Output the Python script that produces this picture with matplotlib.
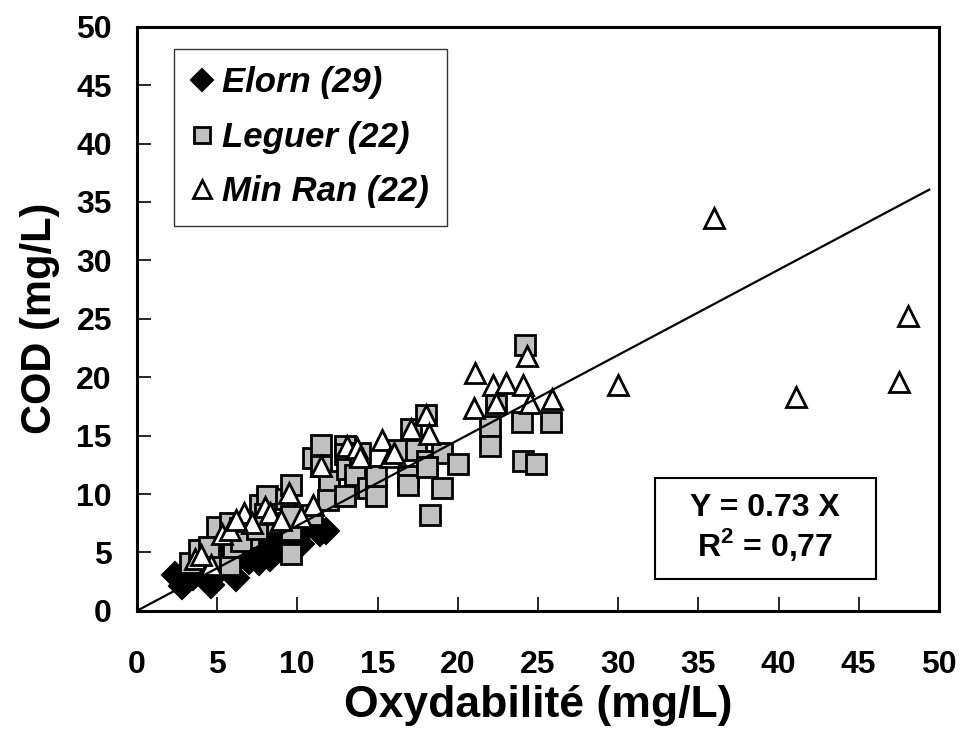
import numpy as np
import matplotlib
matplotlib.use("Agg")
from matplotlib import pyplot as plt
from matplotlib.patches import Rectangle

plt.rcParams["font.family"] = ["Liberation Sans", "DejaVu Sans"]
plt.rcParams["font.weight"] = "bold"
plt.rcParams["mathtext.fontset"] = "custom"
plt.rcParams["mathtext.rm"] = "Liberation Sans:bold"
plt.rcParams["mathtext.bf"] = "Liberation Sans:bold"

# Elorn (diamonds)
elorn_x = [2.4, 2.8, 3.0, 3.5, 4.6, 4.0, 5.0, 5.5, 6.2, 6.0, 6.5, 7.0, 7.6, 7.5, 8.3,
           8.0, 8.8, 9.2, 9.95, 10.2, 10.6, 11.4, 11.8, 5.2, 6.8, 8.5, 9.8, 3.8, 4.4]
elorn_y = [3.1, 2.1, 2.4, 2.9, 2.2, 3.5, 3.2, 4.5, 2.8, 4.0, 5.0, 4.3, 4.2, 5.5, 4.5,
           6.0, 5.2, 6.2, 5.5, 5.7, 7.2, 6.7, 6.8, 5.8, 6.5, 7.0, 7.5, 4.0, 4.6]

# Leguer (grey squares)
leguer_x = [3.3, 3.9, 4.6, 5.0, 5.8, 5.8, 6.4, 6.0, 7.0, 7.7, 8.1, 8.4, 9.3, 9.6, 9.6,
            9.6, 10.9, 9.6, 11.0, 11.5, 11.5, 12.0, 12.0, 11.9, 13.0, 13.0, 13.1, 13.6,
            13.9, 13.0, 14.4, 14.9, 14.9, 16.2, 17.4, 16.9, 16.9, 17.1, 18.0, 18.1, 19.0,
            18.1, 20.0, 19.0, 18.3, 22.0, 22.0, 22.4, 24.0, 25.8, 24.1, 24.9, 24.2, 6.5,
            7.5, 4.5, 8.0]
leguer_y = [4.1, 5.2, 4.2, 7.2, 3.9, 7.5, 7.1, 5.5, 6.2, 9.1, 9.8, 7.5, 9.6, 10.8, 6.9,
            4.9, 8.2, 8.1, 13.1, 14.2, 12.4, 10.2, 11.1, 9.5, 14.1, 13.4, 12.1, 11.6,
            13.5, 9.8, 10.5, 9.8, 11.5, 13.8, 13.8, 11.5, 10.8, 15.6, 16.8, 12.8, 13.5,
            12.3, 12.6, 10.5, 8.2, 15.8, 14.1, 17.9, 16.2, 16.2, 12.8, 12.6, 22.8, 6.0,
            7.0, 5.5, 8.3]

# Min Ran (open triangles)
minran_x = [3.6, 4.6, 5.3, 5.8, 6.7, 8.0, 8.3, 9.5, 11.0, 11.5, 13.1, 13.7, 13.9, 15.3,
            15.8, 16.0, 17.1, 18.0, 18.2, 21.1, 21.0, 22.2, 23.0, 24.1, 22.4, 24.5, 25.9,
            24.3, 30.0, 36.0, 41.1, 47.5, 48.1, 4.0, 7.2, 6.2, 9.0, 10.2]
minran_y = [4.4, 3.9, 6.6, 6.9, 8.4, 8.9, 8.4, 10.1, 9.1, 12.4, 14.1, 13.9, 13.2, 14.6,
            13.2, 13.5, 15.6, 16.8, 15.1, 20.4, 17.4, 19.3, 19.5, 19.3, 17.8, 17.8, 18.1,
            21.8, 19.3, 33.6, 18.3, 19.6, 25.2, 4.8, 7.5, 7.8, 7.8, 8.0]

slope = 0.73
r2 = "0,77"

fig, ax = plt.subplots(figsize=(9.64, 7.44), dpi=100)
fig.subplots_adjust(left=0.142, right=0.974, bottom=0.179, top=0.964)

ax.plot(elorn_x, elorn_y, linestyle="none", marker="D", ms=13, mfc="black",
        mec="black", mew=1.5, label="Elorn (29)", zorder=2)
ax.plot(leguer_x, leguer_y, linestyle="none", marker="s", ms=14, mfc="#c0c0c0",
        mec="black", mew=2, label="Leguer (22)", zorder=3)
ax.plot(minran_x, minran_y, linestyle="none", marker="^", ms=15, mfc="white",
        mec="black", mew=2, label="Min Ran (22)", zorder=4)

# trend line through the origin
xl = np.array([0, 49.4])
ax.plot(xl, slope * xl, color="black", lw=1.6, zorder=5)

ax.set_xlim(0, 50)
ax.set_ylim(0, 50)
ax.set_xticks(range(0, 51, 5))
ax.set_yticks(range(0, 51, 5))
ax.tick_params(direction="in", length=10, width=1.2, labelsize=23)
ax.tick_params(axis="x", pad=28)
ax.tick_params(axis="y", pad=18)
for lab in ax.get_xticklabels() + ax.get_yticklabels():
    lab.set_fontweight("bold")
for s in ax.spines.values():
    s.set_linewidth(2.2)

ax.set_xlabel("Oxydabilité (mg/L)", fontsize=32, fontweight="bold", labelpad=4)
ax.set_ylabel("COD (mg/L)", fontsize=30, fontweight="bold", labelpad=12)

leg = ax.legend(loc="upper left", bbox_to_anchor=(0.046, 0.962), markerscale=0.85,
                prop={"size": 25, "weight": "bold", "style": "italic"},
                frameon=True, fancybox=False, edgecolor="black", handlelength=0.6,
                handletextpad=0.3, labelspacing=0.62, borderpad=0.5,
                borderaxespad=0)
leg.get_frame().set_linewidth(1.0)

# equation box
ax.add_patch(Rectangle((0.646, 0.055), 0.2756, 0.173, transform=ax.transAxes,
                       fc="white", ec="black", lw=1.5, zorder=6))
ax.text(0.783, 0.176, "Y = %.2f X" % slope, transform=ax.transAxes, ha="center",
        va="center", fontsize=23, fontweight="bold", zorder=7)
ax.text(0.783, 0.113, "R$^{2}$ = %s" % r2, transform=ax.transAxes, ha="center",
        va="center", fontsize=23, fontweight="bold", zorder=7)

fig.savefig("out.png", dpi=100)
